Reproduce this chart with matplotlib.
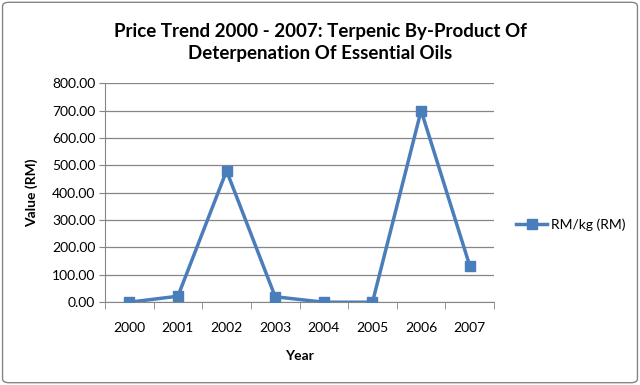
import matplotlib
matplotlib.use('Agg')
import matplotlib.pyplot as plt
from matplotlib.patches import FancyBboxPatch

plt.rcParams['font.family'] = ['Lato', 'DejaVu Sans']

# Data
years = ['2000', '2001', '2002', '2003', '2004', '2005', '2006', '2007']
price = [0.0, 22.0, 480.0, 20.0, 0.0, 0.0, 700.0, 133.0]
y_ticks = [0, 100, 200, 300, 400, 500, 600, 700, 800]

fig = plt.figure(figsize=(6.4, 3.85), dpi=100)
ax = fig.add_axes([0.164, 0.215, 0.608, 0.569])

# Outer chart border
border = FancyBboxPatch((0.004, 0.006), 0.992, 0.988, boxstyle='round,pad=0,rounding_size=0.01',
                        transform=fig.transFigure, fill=False, edgecolor='#868686', linewidth=1.0)
fig.patches.append(border)

x = list(range(len(years)))
ax.plot(x, price, color='#4A7EBB', linewidth=2.5, marker='s', markersize=7,
        markerfacecolor='#4A7EBB', markeredgecolor='#4A7EBB', label='RM/kg (RM)', zorder=3)

ax.set_xlim(-0.5, len(years) - 0.5)
ax.set_ylim(0, 800)
ax.set_yticks(y_ticks)
ax.set_yticklabels([f'{v:.2f}' for v in y_ticks], fontsize=10)
ax.set_xticks(x)
ax.set_xticklabels(years, fontsize=10)
ax.tick_params(axis='x', length=0, pad=14)
ax.tick_params(axis='y', length=4, color='#868686', pad=3)
ax.set_xticks([i - 0.5 for i in range(len(years) + 1)], minor=True)
ax.tick_params(axis='x', which='minor', length=5, color='#868686')

ax.grid(True, axis='y', color='#868686', linewidth=0.9)
ax.set_axisbelow(True)
for side in ['top', 'right']:
    ax.spines[side].set_visible(False)
for side in ['left', 'bottom']:
    ax.spines[side].set_color('#868686')

ax.set_xlabel('Year', fontsize=10, fontweight='bold', labelpad=12)
ax.set_ylabel('Value (RM)', fontsize=10, fontweight='bold', labelpad=10)

fig.suptitle('Price Trend 2000 - 2007: Terpenic By-Product Of\nDeterpenation Of Essential Oils',
             fontsize=13.5, fontweight='bold', y=0.94, linespacing=1.35)

ax.legend(loc='center left', bbox_to_anchor=(1.025, 0.355), frameon=False, fontsize=10,
          handlelength=2.2, handletextpad=0.3)

fig.savefig('out.png', dpi=100)
plt.close(fig)
